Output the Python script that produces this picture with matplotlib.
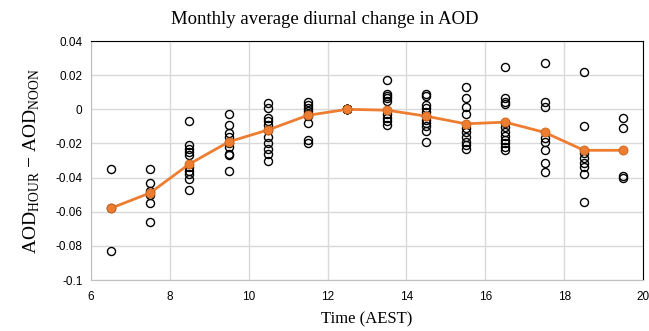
import numpy as np
import matplotlib.pyplot as plt

plt.rcParams['mathtext.fontset'] = 'custom'
plt.rcParams['mathtext.rm'] = 'Liberation Serif'

hours = [6.5, 7.5, 8.5, 9.5, 10.5, 11.5, 12.5, 13.5, 14.5, 15.5, 16.5, 17.5, 18.5, 19.5]

# monthly values per hour
h0650 = [-0.035, -0.058, -0.083]
h0750 = [-0.035, -0.043, -0.048, -0.050, -0.055, -0.066]
h0850 = [-0.007, -0.021, -0.023, -0.025, -0.027, -0.034, -0.036, -0.038, -0.041, -0.047]
h0950 = [-0.003, -0.009, -0.014, -0.016, -0.020, -0.022, -0.026, -0.027, -0.036]
h1050 = [0.0035, 0.001, -0.005, -0.007, -0.009, -0.012, -0.016, -0.020, -0.023, -0.026, -0.030]
h1150 = [0.004, 0.0025, 0.0006, -0.001, -0.003, -0.004, -0.008, -0.018, -0.020]
h1250 = [0.0, 0.0, 0.0, 0.0, 0.0, 0.0, 0.0, 0.0, 0.0, 0.0, 0.0, 0.0]
h1350 = [0.017, 0.009, 0.0078, 0.0064, 0.0048, -0.003, -0.005, -0.007, -0.009]
h1450 = [0.009, 0.008, 0.0025, 0.0006, -0.0015, -0.004, -0.006, -0.008, -0.010, -0.0125, -0.019]
h1550 = [0.013, 0.0064, 0.0015, -0.003, -0.011, -0.013, -0.016, -0.019, -0.021, -0.0235]
h1650 = [0.025, 0.0064, 0.0044, 0.003, -0.008, -0.0105, -0.013, -0.0156, -0.018, -0.020, -0.022, -0.024]
h1750 = [0.027, 0.0044, 0.0015, -0.017, -0.019, -0.024, -0.0315, -0.0365]
h1850 = [0.022, -0.010, -0.0257, -0.0286, -0.0315, -0.0335, -0.038, -0.0545]
h1950 = [-0.005, -0.011, -0.039, -0.040]
monthly = [h0650, h0750, h0850, h0950, h1050, h1150, h1250, h1350, h1450, h1550,
           h1650, h1750, h1850, h1950]

mean_change = [-0.058, -0.049, -0.032, -0.019, -0.012, -0.0035, 0.0, -0.0005, -0.004,
               -0.0085, -0.0075, -0.0135, -0.024, -0.024]

fig = plt.figure(figsize=(6.49, 3.31), dpi=100)
ax = fig.add_axes([0.140, 0.154, 0.851, 0.722])

for h, vals in zip(hours, monthly):
    ax.plot([h] * len(vals), vals, linestyle='none', marker='o', markersize=5.8,
            markerfacecolor='none', markeredgecolor='black', markeredgewidth=1.0, zorder=3)

ax.plot(hours, mean_change, color='#ED7D31', linewidth=2, marker='o', markersize=6.5,
        markerfacecolor='#ED7D31', markeredgecolor='#C8641E', markeredgewidth=0.6, zorder=4)

ax.set_xlim(6, 20)
ax.set_ylim(-0.1, 0.04)
ax.set_xticks(np.arange(6, 21, 2))
yt = np.round(np.arange(-0.1, 0.041, 0.02), 2)
ax.set_yticks(yt)
ax.set_yticklabels(['-0.1', '-0.08', '-0.06', '-0.04', '-0.02', '0', '0.02', '0.04'])
ax.tick_params(length=0, labelsize=8.5, pad=6)
ax.tick_params(axis='x', pad=8)
for lab in ax.get_xticklabels() + ax.get_yticklabels():
    lab.set_fontfamily('Liberation Sans')

ax.grid(True, color='#D9D9D9', linewidth=1)
ax.set_axisbelow(True)
ax.spines['left'].set_color('#BFBFBF')
ax.spines['bottom'].set_color('#BFBFBF')
ax.spines['top'].set_color('black')
ax.spines['right'].set_color('black')

fig.text(0.5, 0.942, 'Monthly average diurnal change in AOD', family='Liberation Serif',
         fontsize=13.5, ha='center', va='center')
ax.set_xlabel('Time (AEST)', family='Liberation Serif', fontsize=12, labelpad=6)
ax.set_ylabel(r'AOD$_{\mathrm{HOUR}}$ $-$ AOD$_{\mathrm{NOON}}$', family='Liberation Serif',
              fontsize=14, labelpad=10)

fig.savefig('out.png', dpi=100)
